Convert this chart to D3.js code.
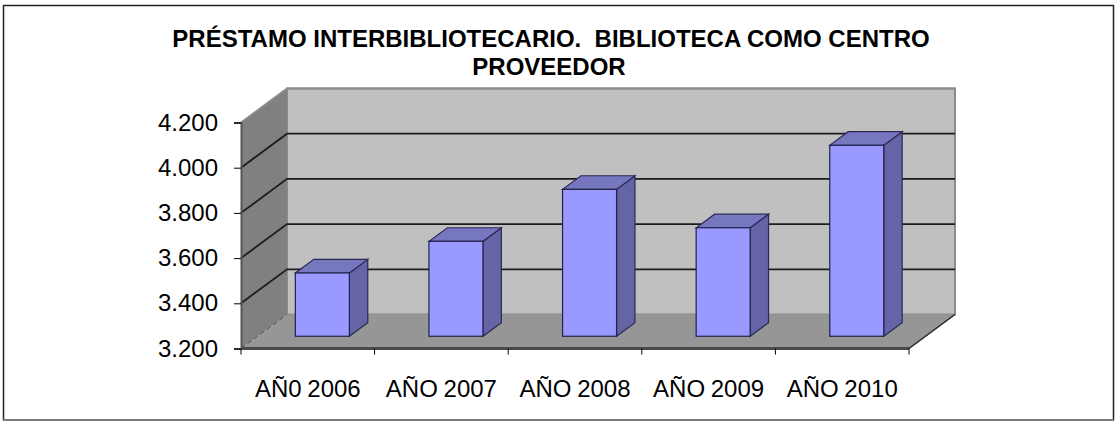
<!DOCTYPE html>
<html>
<head>
<meta charset="utf-8">
<script src="https://cdn.jsdelivr.net/npm/d3@7"></script>
<style>
  html, body { margin: 0; padding: 0; background: #fff; overflow: hidden; }
  svg { display: block; }
</style>
</head>
<body>
<svg id="chart" width="1115" height="421"></svg>
<script>
const titleLines = ["PRÉSTAMO INTERBIBLIOTECARIO.  BIBLIOTECA COMO CENTRO", "PROVEEDOR"];
const categories = ["AÑ0 2006", "AÑO 2007", "AÑO 2008", "AÑO 2009", "AÑO 2010"];
const values = [3480, 3620, 3850, 3680, 4045];
const yTicks = [3200, 3400, 3600, 3800, 4000, 4200];

const svg = d3.select("#chart");
const fontFamily = "'Liberation Sans', Arial, sans-serif";

// front plane of the 3d box, the back wall is this shifted by depthX/depthY
const plotLeft = 241, plotRight = 909, plotBottom = 348.5, plotTop = 122.5;
const depthX = 46, depthY = 34;
const barNear = 0.36, barFar = 0.76;
const barWidth = 54;

const x = d3.scaleBand().domain(categories).range([plotLeft, plotRight]);
const y = d3.scaleLinear().domain([3200, 4200]).range([plotBottom, plotTop]);

// x, y on the front plane pushed back by z (0 front, 1 back wall)
const px = (xv, z) => xv + depthX * z;
const py = (yv, z) => yv - depthY * z;
const poly = pts => pts.map(p => p.join(",")).join(" ");

const locale = d3.formatLocale({ decimal: ",", thousands: ".", grouping: [3], currency: ["", ""] });
const fmt = locale.format(",d");

// frame
svg.append("rect")
  .attr("x", 3.5).attr("y", 5.5).attr("width", 1110).attr("height", 414.5)
  .style("fill", "#fff").style("stroke", "#222").style("stroke-width", 1.5);
// bottom edge of the frame is lighter
svg.append("line")
  .attr("x1", 3).attr("y1", 420).attr("x2", 1114).attr("y2", 420)
  .style("stroke", "#888").style("stroke-width", 1.5);

// back wall
svg.append("polygon")
  .attr("points", poly([[px(plotLeft, 1), py(plotTop, 1)], [px(plotRight, 1), py(plotTop, 1)], [px(plotRight, 1), py(plotBottom, 1)], [px(plotLeft, 1), py(plotBottom, 1)]]))
  .style("fill", "#c0c0c0").style("stroke", "#8c8c8c").style("stroke-width", 2);

// side wall
svg.append("polygon")
  .attr("points", poly([[plotLeft, plotTop], [px(plotLeft, 1), py(plotTop, 1)], [px(plotLeft, 1), py(plotBottom, 1)], [plotLeft, plotBottom]]))
  .style("fill", "#808080");

// floor
svg.append("polygon")
  .attr("points", poly([[plotLeft, plotBottom], [plotRight, plotBottom], [px(plotRight, 1), py(plotBottom, 1)], [px(plotLeft, 1), py(plotBottom, 1)]]))
  .style("fill", "#969696");

// gridlines along the side wall and the back wall
const grid = yTicks.filter(d => d > 3200);
svg.selectAll(".grid")
  .data(grid)
  .enter()
  .append("polyline")
  .attr("points", d => poly([[plotLeft, y(d)], [px(plotLeft, 1), py(y(d), 1)], [px(plotRight, 1), py(y(d), 1)]]))
  .style("fill", "none")
  .style("stroke", d => d === 4200 ? "#8c8c8c" : "#1c1c1c")
  .style("stroke-width", 1.8);

// floor edges
svg.append("line")
  .attr("x1", plotLeft).attr("y1", plotBottom).attr("x2", px(plotLeft, 1)).attr("y2", py(plotBottom, 1))
  .style("stroke", "#555").style("stroke-width", 1).style("stroke-dasharray", "5,3");
svg.append("line")
  .attr("x1", plotRight).attr("y1", plotBottom).attr("x2", px(plotRight, 1)).attr("y2", py(plotBottom, 1))
  .style("stroke", "#222").style("stroke-width", 1.5);

// bars: side, top, front
const barX = d => x(d) + x.bandwidth() / 2 - barWidth / 2 + depthX * barNear - 2;
const barGroups = svg.selectAll(".bar")
  .data(categories.map((c, i) => ({ c: c, v: values[i] })))
  .enter()
  .append("g");

barGroups.append("polygon")
  .attr("points", d => {
    let x1 = barX(d.c) + barWidth, dx = depthX * (barFar - barNear), dy = depthY * (barFar - barNear);
    let y0 = py(y(3200), barNear), y1 = py(y(d.v), barNear);
    return poly([[x1, y1], [x1 + dx, y1 - dy], [x1 + dx, y0 - dy], [x1, y0]]);
  })
  .style("fill", "#6464a6").style("stroke", "#2a2a55").style("stroke-width", 1.2);

barGroups.append("polygon")
  .attr("points", d => {
    let x0 = barX(d.c), dx = depthX * (barFar - barNear), dy = depthY * (barFar - barNear);
    let y1 = py(y(d.v), barNear);
    return poly([[x0, y1], [x0 + barWidth, y1], [x0 + barWidth + dx, y1 - dy], [x0 + dx, y1 - dy]]);
  })
  .style("fill", "#7777bf").style("stroke", "#2a2a55").style("stroke-width", 1.2);

barGroups.append("rect")
  .attr("x", d => barX(d.c))
  .attr("y", d => py(y(d.v), barNear))
  .attr("width", barWidth)
  .attr("height", d => y(3200) - y(d.v))
  .style("fill", "#9999ff").style("stroke", "#22224a").style("stroke-width", 1.2);

// front floor edge
svg.append("rect")
  .attr("x", plotLeft).attr("y", plotBottom - 1.5).attr("width", plotRight - plotLeft).attr("height", 3)
  .style("fill", "#4a4a4a");

// y axis
svg.append("g")
  .attr("transform", "translate(" + plotLeft + ",0)")
  .style("font-family", fontFamily)
  .style("font-size", "24px")
  .style("color", "#000")
  .call(d3.axisLeft(y).tickValues(yTicks).tickFormat(fmt).tickSize(7).tickPadding(16))
  .call(g => g.select(".domain").style("stroke-width", 2).style("stroke", "#555"))
  .call(g => g.selectAll(".tick text").attr("fill", "#000"));

// x axis, ticks sit between the categories
svg.selectAll(".xtick")
  .data(d3.range(categories.length + 1))
  .enter()
  .append("line")
  .attr("x1", i => plotLeft + i * x.bandwidth())
  .attr("x2", i => plotLeft + i * x.bandwidth())
  .attr("y1", plotBottom)
  .attr("y2", plotBottom + 6)
  .style("stroke", "#000");

svg.selectAll(".xlabel")
  .data(categories)
  .enter()
  .append("text")
  .attr("x", d => x(d) + x.bandwidth() / 2)
  .attr("y", 397)
  .attr("text-anchor", "middle")
  .text(d => d)
  .style("font-family", fontFamily)
  .style("font-size", "24px")
  .style("word-spacing", "-1px");

// title, second line sits a little left of the first
svg.selectAll(".title")
  .data(titleLines)
  .enter()
  .append("text")
  .attr("x", (d, i) => 551 - i * 2)
  .attr("y", (d, i) => 47 + i * 28)
  .attr("text-anchor", "middle")
  .text(d => d)
  .style("white-space", "pre")
  .style("font-family", fontFamily)
  .style("font-weight", "bold")
  .style("font-size", "24px");
</script>
</body>
</html>
